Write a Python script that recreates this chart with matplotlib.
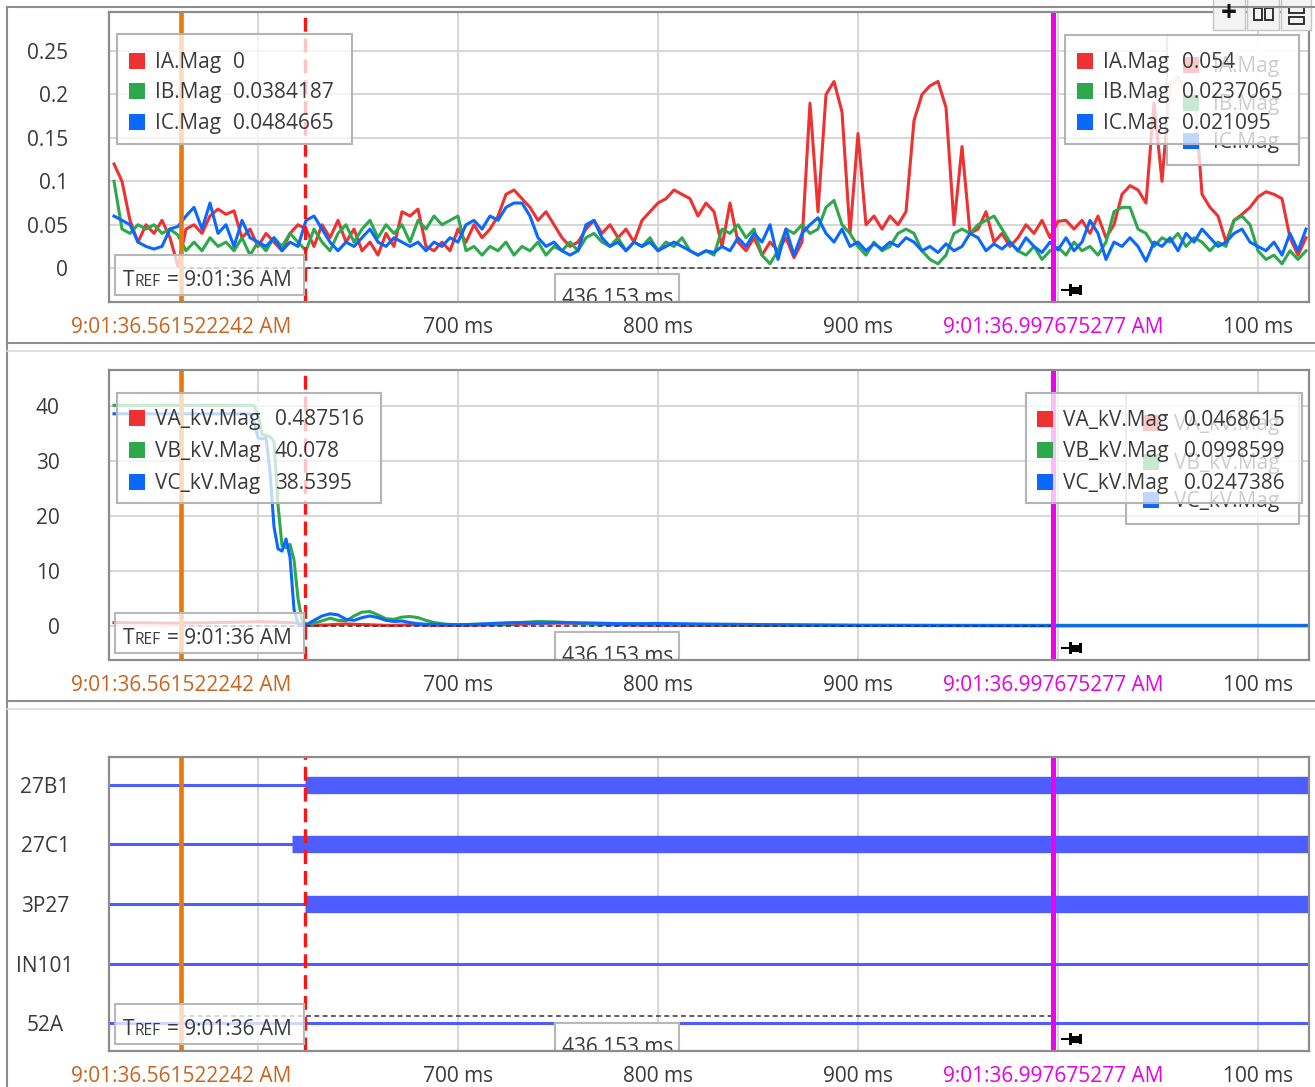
import numpy as np
import matplotlib
matplotlib.use("Agg")
import matplotlib.pyplot as plt
from matplotlib.patches import Rectangle
from matplotlib.lines import Line2D
from matplotlib.transforms import Affine2D

plt.rcParams['font.family'] = ['Open Sans', 'DejaVu Sans']
plt.rcParams['lines.scale_dashes'] = False

# cursor times, ms after 9:01:36
t_cursor1 = 561.522242
t_cursor2 = 997.675277
t_trigger = 623.5
cursor1_label = "9:01:36.561522242 AM"
cursor2_label = "9:01:36.997675277 AM"
delta_label = "436.153 ms"
tref_time = "9:01:36 AM"

# current magnitudes (kA), one sample every 4 ms from 528 ms
i_time = np.arange(528, 1125, 4)
ia_mag = [0.12, 0.10, 0.055, 0.03, 0.05, 0.04, 0.055, 0.035, 0.002, 0.045,
          0.05, 0.04, 0.06, 0.068, 0.062, 0.066, 0.035, 0.045, 0.025, 0.04,
          0.03, 0.02, 0.04, 0.05, 0.045, 0.025, 0.05, 0.035, 0.055, 0.03,
          0.045, 0.02, 0.03, 0.015, 0.04, 0.025, 0.065, 0.06, 0.068, 0.025,
          0.02, 0.03, 0.02, 0.045, 0.03, 0.05, 0.035, 0.045, 0.06, 0.085,
          0.09, 0.08, 0.07, 0.055, 0.065, 0.05, 0.035, 0.025, 0.03, 0.045,
          0.055, 0.04, 0.05, 0.035, 0.045, 0.03, 0.055, 0.065, 0.075, 0.08,
          0.09, 0.085, 0.08, 0.06, 0.075, 0.065, 0.025, 0.075, 0.03, 0.02,
          0.035, 0.015, 0.03, 0.02, 0.035, 0.012, 0.03, 0.19, 0.065, 0.2,
          0.215, 0.18, 0.04, 0.155, 0.05, 0.06, 0.045, 0.06, 0.05, 0.065,
          0.17, 0.2, 0.21, 0.215, 0.185, 0.05, 0.14, 0.04, 0.045, 0.065,
          0.03, 0.04, 0.025, 0.035, 0.05, 0.04, 0.055, 0.035, 0.054, 0.055,
          0.045, 0.055, 0.04, 0.06, 0.035, 0.05, 0.085, 0.095, 0.09, 0.075,
          0.19, 0.1, 0.21, 0.22, 0.2, 0.21, 0.085, 0.07, 0.06, 0.03,
          0.055, 0.062, 0.07, 0.082, 0.088, 0.085, 0.08, 0.035, 0.015, 0.035]
ib_mag = [0.10, 0.045, 0.04, 0.05, 0.045, 0.05, 0.04, 0.045, 0.038, 0.02,
          0.03, 0.02, 0.035, 0.025, 0.03, 0.02, 0.035, 0.015, 0.03, 0.02,
          0.035, 0.025, 0.04, 0.03, 0.02, 0.045, 0.03, 0.02, 0.04, 0.05,
          0.03, 0.045, 0.055, 0.035, 0.05, 0.04, 0.05, 0.03, 0.055, 0.045,
          0.06, 0.05, 0.055, 0.06, 0.02, 0.025, 0.015, 0.025, 0.02, 0.03,
          0.015, 0.025, 0.02, 0.03, 0.015, 0.025, 0.02, 0.03, 0.02, 0.035,
          0.04, 0.03, 0.025, 0.035, 0.02, 0.03, 0.025, 0.035, 0.02, 0.03,
          0.025, 0.035, 0.02, 0.015, 0.02, 0.015, 0.045, 0.04, 0.05, 0.035,
          0.045, 0.015, 0.005, 0.02, 0.045, 0.04, 0.05, 0.04, 0.045, 0.07,
          0.078, 0.05, 0.04, 0.025, 0.015, 0.03, 0.02, 0.025, 0.04, 0.045,
          0.04, 0.02, 0.01, 0.005, 0.015, 0.04, 0.045, 0.04, 0.05, 0.055,
          0.06, 0.045, 0.03, 0.02, 0.015, 0.025, 0.01, 0.02, 0.024, 0.015,
          0.03, 0.02, 0.025, 0.015, 0.03, 0.065, 0.07, 0.07, 0.045, 0.04,
          0.025, 0.035, 0.03, 0.04, 0.025, 0.035, 0.03, 0.02, 0.03, 0.025,
          0.055, 0.06, 0.05, 0.02, 0.01, 0.015, 0.005, 0.02, 0.01, 0.02]
ic_mag = [0.06, 0.055, 0.05, 0.03, 0.025, 0.022, 0.025, 0.045, 0.048, 0.06,
          0.07, 0.045, 0.075, 0.04, 0.05, 0.025, 0.055, 0.035, 0.03, 0.025,
          0.035, 0.02, 0.03, 0.025, 0.055, 0.06, 0.045, 0.03, 0.02, 0.03,
          0.025, 0.035, 0.045, 0.03, 0.025, 0.035, 0.03, 0.025, 0.03, 0.02,
          0.03, 0.025, 0.035, 0.03, 0.05, 0.055, 0.045, 0.06, 0.055, 0.07,
          0.075, 0.075, 0.06, 0.035, 0.025, 0.03, 0.02, 0.015, 0.02, 0.05,
          0.055, 0.035, 0.025, 0.03, 0.02, 0.03, 0.025, 0.03, 0.02, 0.025,
          0.03, 0.025, 0.02, 0.015, 0.02, 0.018, 0.025, 0.02, 0.035, 0.025,
          0.04, 0.03, 0.05, 0.01, 0.045, 0.015, 0.04, 0.05, 0.058, 0.04,
          0.03, 0.045, 0.025, 0.03, 0.02, 0.028, 0.022, 0.03, 0.025, 0.035,
          0.03, 0.02, 0.025, 0.018, 0.028, 0.02, 0.025, 0.04, 0.035, 0.02,
          0.028, 0.022, 0.03, 0.02, 0.035, 0.025, 0.018, 0.03, 0.021, 0.035,
          0.02, 0.03, 0.055, 0.04, 0.01, 0.03, 0.025, 0.035, 0.025, 0.008,
          0.03, 0.025, 0.035, 0.02, 0.04, 0.03, 0.045, 0.035, 0.025, 0.03,
          0.04, 0.045, 0.03, 0.025, 0.02, 0.03, 0.015, 0.04, 0.02, 0.045]

# voltage magnitudes (kV)
v_time = [528, 560, 596, 598, 600, 602, 604, 606, 608, 610,
          612, 614, 616, 618, 620, 622, 624, 628, 632, 636,
          640, 644, 648, 652, 656, 660, 664, 668, 672, 676,
          680, 684, 688, 694, 700, 710, 720, 730, 740, 750,
          760, 770, 780, 790, 800, 820, 850, 900, 1000, 1125]
va_kv = [0.6, 0.49, 0.7, 0.75, 0.8, 0.75, 0.7, 0.7, 0.7, 0.65,
         0.6, 0.6, 0.6, 0.55, 0.5, 0.4, 0.1, 0.1, 0.15, 0.2,
         0.3, 0.35, 0.3, 0.25, 0.2, 0.15, 0.1, 0.1, 0.15, 0.2,
         0.2, 0.15, 0.1, 0.1, 0.1, 0.15, 0.2, 0.3, 0.45, 0.5,
         0.45, 0.3, 0.2, 0.15, 0.1, 0.08, 0.06, 0.05, 0.047, 0.05]
vb_kv = [40.08, 40.08, 40.08, 40.05, 38.5, 34.8, 34.6, 34.4, 33.5, 22.0,
         14.6, 14.2, 14.8, 12.0, 5.0, 1.0, 0.3, 0.5, 0.9, 1.4,
         1.0, 0.9, 1.8, 2.5, 2.6, 2.0, 1.3, 1.2, 1.6, 1.7,
         1.5, 1.0, 0.6, 0.3, 0.2, 0.3, 0.4, 0.6, 0.8, 0.7,
         0.5, 0.4, 0.3, 0.35, 0.25, 0.2, 0.15, 0.12, 0.1, 0.1]
vc_kv = [38.54, 38.54, 38.54, 37.0, 34.2, 34.0, 34.2, 28.0, 18.0, 14.0,
         13.6, 15.8, 12.5, 3.0, 0.3, 0.1, 0.2, 1.0, 1.8, 2.2,
         2.0, 1.2, 1.0, 1.5, 1.8, 1.5, 1.0, 0.8, 0.9, 0.6,
         0.4, 0.3, 0.3, 0.25, 0.2, 0.3, 0.5, 0.6, 0.5, 0.6,
         0.55, 0.5, 0.4, 0.4, 0.45, 0.35, 0.25, 0.1, 0.025, 0.03]

# digital channels and the time each one asserted (None = never)
dig_names = ['27B1', '27C1', '3P27', 'IN101', '52A']
dig_rise = [623.5, 617.0, 623.5, None, None]

# readouts at the two cursors
cur_names = ['IA.Mag', 'IB.Mag', 'IC.Mag']
cur_at_c1 = ['0', '0.0384187', '0.0484665']
cur_at_c2 = ['0.054', '0.0237065', '0.021095']
volt_names = ['VA_kV.Mag', 'VB_kV.Mag', 'VC_kV.Mag']
volt_at_c1 = ['0.487516', '40.078', '38.5395']
volt_at_c2 = ['0.0468615', '0.0998599', '0.0247386']

cur_ticks = [0, 0.05, 0.1, 0.15, 0.2, 0.25]
cur_tick_labels = ['0', '0.05', '0.1', '0.15', '0.2', '0.25']
volt_ticks = [0, 10, 20, 30, 40]
grid_ms = [600, 700, 800, 900, 1000, 1100]
x_ticks = [t_cursor1, 700, 800, 900, t_cursor2, 1100]
x_tick_labels = [cursor1_label, '700 ms', '800 ms', '900 ms', cursor2_label, '100 ms']

RED, GREEN, BLUE = '#ee3131', '#2da84b', '#0a68ff'
ORANGE, MAGENTA, DASHRED = '#e8780a', '#f000f0', '#ff1414'
DIG = '#4d5dff'
TXT = '#3a3a3a'
GRID = '#d6d6d6'
FS = 15

W, H = 1315, 1087
fig = plt.figure(figsize=(W / 100, H / 100), dpi=100)
fig.patch.set_facecolor('white')
# pixel coordinates, origin at the top-left corner
px = Affine2D().scale(1 / W, -1 / H).translate(0, 1) + fig.transFigure

AX_L, AX_R = 109, 1309
X700 = 458
x_lo = 700 - (X700 - AX_L) / 2.0
x_hi = 700 + (AX_R - X700) / 2.0


def make_axes(top, bottom):
    ax = fig.add_axes([AX_L / W, 1 - bottom / H, (AX_R - AX_L) / W, (bottom - top) / H])
    ax.set_xlim(x_lo, x_hi)
    for s in ax.spines.values():
        s.set_color('#8c8c8c')
        s.set_linewidth(1.6)
        s.set_zorder(10)
    for t in grid_ms:
        ax.axvline(t, color=GRID, lw=1.4, zorder=0.5)
    ax.set_xticks(x_ticks, x_tick_labels)
    ax.tick_params(length=0, labelsize=FS, labelcolor=TXT)
    ax.tick_params(axis='x', pad=11)
    xl = ax.get_xticklabels()
    xl[0].set_color('#c8641e')
    xl[4].set_color('#e600e6')
    return ax


def cursors(ax, top, bottom, delta_y):
    ax.axvline(t_cursor1, color=ORANGE, lw=3.3, zorder=4)
    ax.axvline(t_trigger, color=DASHRED, lw=2.4, dashes=(10, 5), zorder=4)
    ax.axvline(t_cursor2, color=MAGENTA, lw=3.6, zorder=4)
    ax.plot([t_cursor1, t_cursor2], [delta_y, delta_y], color='#333333', lw=1.1,
            dashes=(3.5, 2.5), zorder=3)

    # pin marker next to the second cursor
    yc = bottom - 12
    ax.add_line(Line2D([1062, 1071], [yc, yc], color='black', lw=1.5, transform=px, zorder=8))
    for x0, w, h in [(1069, 3, 12), (1072, 8, 7), (1079, 3, 10)]:
        ax.add_patch(Rectangle((x0, yc - h / 2), w, h, transform=px, facecolor='black',
                               edgecolor='none', zorder=8))

    # reference time box
    ax.add_patch(Rectangle((115, bottom - 47), 189, 40, transform=px, facecolor=(1, 1, 1, 0.75),
                           edgecolor='#b8b8b8', lw=1.5, zorder=7))
    base = bottom - 16
    ax.text(123, base, 'T', transform=px, fontsize=FS, color=TXT, va='baseline', zorder=8)
    ax.text(135, base, 'REF', transform=px, fontsize=11.2, color=TXT, va='baseline', zorder=8)
    ax.text(167, base, '= ' + tref_time, transform=px, fontsize=FS, color=TXT,
            va='baseline', zorder=8)

    # delta between cursors, cut off by the bottom of the plot area
    mid = 458 + (t_cursor1 + t_cursor2 - 1400)
    ax.add_patch(Rectangle((mid - 62, bottom - 28), 124, 40, transform=px, facecolor='white',
                           edgecolor='#b8b8b8', lw=1.5, zorder=7))
    ax.text(mid, bottom + 2, delta_label, transform=px, fontsize=FS, color=TXT, ha='center',
            va='baseline', zorder=8, clip_on=True)


def readout(ax, box, rows, sq_x, name_x, val_x, names, values, colors, z):
    x0, y0, x1, y1 = box
    ax.add_patch(Rectangle((x0, y0), x1 - x0, y1 - y0, transform=px, facecolor=(1, 1, 1, 0.75),
                           edgecolor='#b4b4b4', lw=1.5, zorder=z))
    for r, name, c, i in zip(rows, names, colors, range(3)):
        ax.add_patch(Rectangle((sq_x, r - 8), 16, 16, transform=px, facecolor=c,
                               edgecolor='none', zorder=z + 0.1))
        ax.text(name_x, r + 7, name, transform=px, fontsize=FS, color=TXT, va='baseline',
                zorder=z + 0.2)
        if values is not None:
            ax.text(val_x, r + 7, values[i], transform=px, fontsize=FS, color=TXT,
                    va='baseline', zorder=z + 0.2)


colors3 = [RED, GREEN, BLUE]

# --- currents ---
top1, bot1 = 12, 302
ax1 = make_axes(top1, bot1)
ax1.set_ylim(-0.039, 0.295)
for v in cur_ticks:
    ax1.axhline(v, color=GRID, lw=1.4, zorder=0.5)
ax1.set_yticks(cur_ticks, cur_tick_labels)
ax1.tick_params(axis='y', pad=29.5)
for y, c in zip([ia_mag, ib_mag, ic_mag], colors3):
    ax1.plot(i_time, y, color=c, lw=2.2, zorder=2, solid_joinstyle='round')
cursors(ax1, top1, bot1, 0)
readout(ax1, (1167, 35, 1299, 165), [65, 103, 141], 1183, 1213, None, cur_names, None, colors3, 5)
readout(ax1, (117, 34, 352, 144), [61, 91, 122], 129, 155, 233, cur_names, cur_at_c1, colors3, 6)
readout(ax1, (1065, 35, 1299, 144), [61, 91, 122], 1077, 1103, 1182, cur_names, cur_at_c2,
        colors3, 6)

# --- voltages ---
top2, bot2 = 370, 660
ax2 = make_axes(top2, bot2)
ax2.set_ylim(-6.2, 46.5)
for v in volt_ticks:
    ax2.axhline(v, color=GRID, lw=1.4, zorder=0.5)
ax2.set_yticks(volt_ticks, [str(v) for v in volt_ticks])
ax2.tick_params(axis='y', pad=35.5)
for y, c in zip([va_kv, vb_kv, vc_kv], colors3):
    ax2.plot(v_time, y, color=c, lw=2.2, zorder=2)
cursors(ax2, top2, bot2, 0)
readout(ax2, (1126, 393, 1299, 524), [423, 462, 500], 1143, 1174, None, volt_names, None,
        colors3, 5)
readout(ax2, (117, 393, 381, 503), [418, 450, 482], 129, 155, 275, volt_names, volt_at_c1,
        colors3, 6)
readout(ax2, (1026, 393, 1302, 503), [419, 450, 482], 1037, 1063, 1184, volt_names, volt_at_c2,
        colors3, 6)

# --- digital channels ---
top3, bot3 = 757, 1051
ax3 = make_axes(top3, bot3)
ax3.set_ylim(4.47, -0.47)
ax3.set_yticks(range(len(dig_names)), dig_names)
ax3.tick_params(axis='y', pad=46)
for lbl in ax3.get_yticklabels():
    lbl.set_horizontalalignment('center')
for k, rise in enumerate(dig_rise):
    ax3.plot([x_lo, x_hi], [k, k], color=DIG, lw=2.2, zorder=2)
    if rise is not None:
        ax3.plot([rise, x_hi], [k, k], color=DIG, lw=12.5, solid_capstyle='butt', zorder=2)
cursors(ax3, top3, bot3, 3.88)

# window frame and panel separators
frame = [((7, 7), (7, H)), ((7, W), (7, 7)),
         ((7, W), (343, 343)), ((7, W), (701, 701))]
for xs, ys in frame:
    fig.add_artist(Line2D(xs, ys, color='#8e8e8e', lw=1.5, transform=px))
for y in (351, 709):
    fig.add_artist(Line2D((7, W), (y, y), color='#dadada', lw=1.2, transform=px))

# toolbar buttons
for bx0, bx1 in [(1213, 1245), (1247, 1279), (1281, 1311)]:
    fig.add_artist(Rectangle((bx0, -2), bx1 - bx0, 32, transform=px, facecolor='#f3f3f3',
                             edgecolor='#c6c6c6', lw=1.0))
fig.text(1229, 14, '+', transform=px, ha='center', va='center', fontsize=20,
         fontweight='bold', color='#111111')
for rx, ry, rw, rh in [(1254, 8, 8, 12), (1265, 8, 8, 12), (1289, 7, 15, 6), (1289, 17, 15, 7)]:
    fig.add_artist(Rectangle((rx, ry), rw, rh, transform=px, facecolor='none',
                             edgecolor='#222222', lw=1.3))

fig.savefig('out.png', dpi=100)
